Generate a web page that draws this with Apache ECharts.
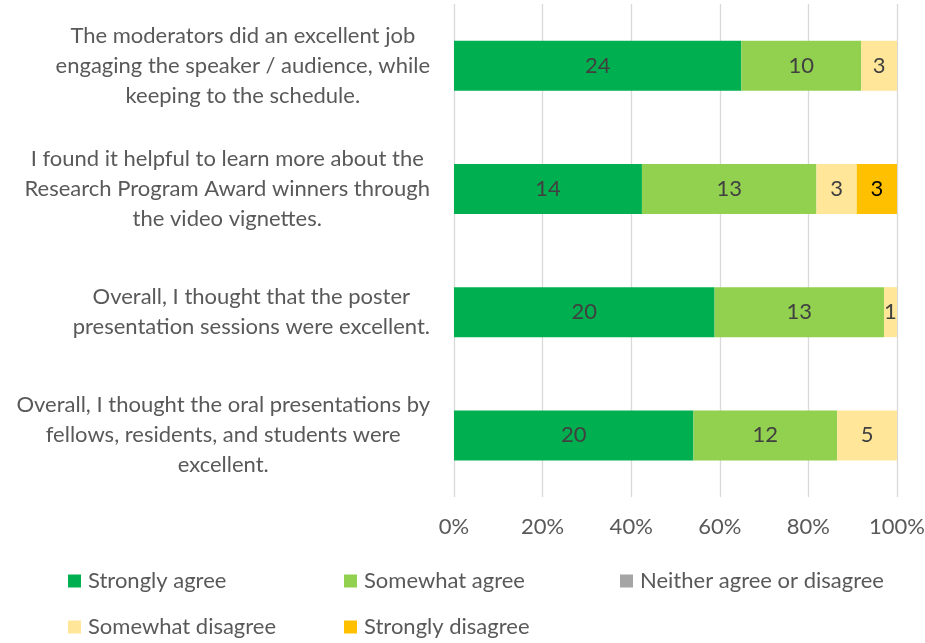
<!DOCTYPE html>
<html>
<head>
<meta charset="utf-8">
<script src="https://cdn.jsdelivr.net/npm/echarts@6/dist/echarts.min.js"></script>
<style>
html,body{margin:0;padding:0;background:#fff;}
#chart{width:925px;height:643px;}
</style>
</head>
<body>
<div id="chart"></div>
<script>
const categories = [
  "The moderators did an excellent job\nengaging the speaker / audience, while\nkeeping to the schedule.",
  "I found it helpful to learn more about the\nResearch Program Award winners through\nthe video vignettes.",
  "Overall, I thought that the poster\npresentation sessions were excellent.",
  "Overall, I thought the oral presentations by\nfellows, residents, and students were\nexcellent."
];
const seriesNames = ["Strongly agree", "Somewhat agree", "Neither agree or disagree", "Somewhat disagree", "Strongly disagree"];
const stronglyAgree = [24, 14, 20, 20];
const somewhatAgree = [10, 13, 13, 12];
const neither = [0, 0, 0, 0];
const somewhatDisagree = [3, 3, 1, 5];
const stronglyDisagree = [0, 3, 0, 0];
const xTicks = [0, 20, 40, 60, 80, 100];

const counts = [stronglyAgree, somewhatAgree, neither, somewhatDisagree, stronglyDisagree];
const colors = ["#00B050", "#92D050", "#A5A5A5", "#FFE699", "#FFC000"];
const labelColors = ["#404040", "#404040", "#404040", "#404040", "#000000"];
const totals = categories.map((c, i) => counts.reduce((s, arr) => s + arr[i], 0));
const FONT = "Lato, 'Open Sans', sans-serif";

const chart = echarts.init(document.getElementById('chart'));
chart.setOption({
  animation: false,
  textStyle: {fontFamily: FONT},
  grid: {left: 454, right: 28, top: 4, bottom: 146, containLabel: false, outerBoundsMode: 'none'},
  xAxis: {
    type: 'value', min: xTicks[0], max: xTicks[xTicks.length - 1], interval: 20,
    axisLine: {show: false}, axisTick: {show: false},
    splitLine: {show: true, lineStyle: {color: '#D9D9D9', width: 1.3}},
    axisLabel: {formatter: '{value}%', fontSize: 22, color: '#595959', margin: 19, fontFamily: FONT}
  },
  yAxis: {
    type: 'category', inverse: true, data: categories,
    axisLine: {show: false}, axisTick: {show: false}, splitLine: {show: false},
    axisLabel: {
      margin: 24, fontSize: 22, color: '#595959', lineHeight: 30, fontFamily: FONT,
      formatter: v => v.split('\n').map(l => '{c|' + l + '}').join('\n'),
      rich: {c: {align: 'center', fontSize: 22, color: '#595959', lineHeight: 30, fontFamily: FONT}}
    }
  },
  legend: {
    left: 68, top: 558, width: 840, padding: 0, itemGap: 0, itemWidth: 13, itemHeight: 13,
    icon: 'rect', data: seriesNames,
    textStyle: {width: 256, fontSize: 22, color: '#595959', lineHeight: 46, fontFamily: FONT, padding: [0, 0, 0, 2]}
  },
  series: seriesNames.map((name, si) => ({
    name: name, type: 'bar', stack: 'total', barWidth: 50,
    itemStyle: {color: colors[si]},
    label: {
      show: true, position: 'inside', fontSize: 22, color: labelColors[si], fontFamily: FONT,
      formatter: p => counts[si][p.dataIndex] ? String(counts[si][p.dataIndex]) : ''
    },
    data: counts[si].map((v, i) => v / totals[i] * 100)
  }))
});
</script>
</body>
</html>
